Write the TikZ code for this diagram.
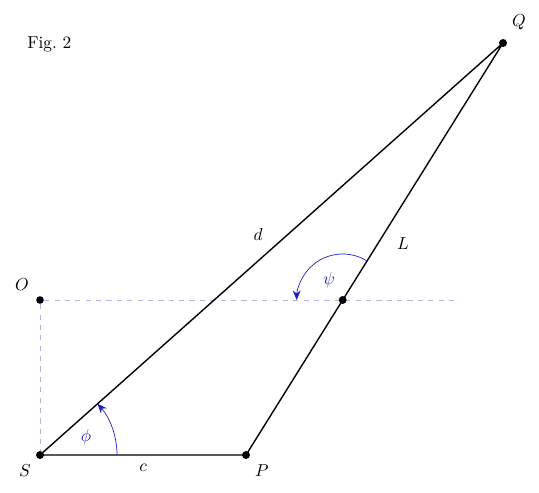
\documentclass[tikz,border=0pt]{standalone}
\usetikzlibrary{arrows.meta,calc}
\definecolor{guidecol}{RGB}{180,180,228}
\definecolor{arccol}{RGB}{30,30,190}
\begin{document}
\begin{tikzpicture}[x=0.578pt,y=-0.578pt,
  pt/.style={circle,fill=black,inner sep=0pt,minimum size=4.4pt},
  side/.style={black,thick},
  guide/.style={guidecol,dashed,thin},
  angarc/.style={arccol,thin,-{Stealth[length=5.5pt,width=4.5pt]}},
  lbl/.style={inner sep=0pt}]
\useasboundingbox (0,0) rectangle (539,493);
\node[lbl,anchor=west] (fig) at (27,44) {Fig.~2};
\node[pt] (S) at (40,455) {};
\node[pt] (P) at (246,455) {};
\node[pt] (Q) at (503,43) {};
\node[pt] (O) at (40,300) {};
\node[pt] (X) at (342.7,300) {};
\coordinate (E) at (455,300);
\draw[guide] (O) -- (E);
\draw[guide] (O) -- (S);
\draw[side] (S.center) -- (P.center) -- (Q.center) -- cycle;
\node[pt] at (S) {};
\node[pt] at (P) {};
\node[pt] at (Q) {};
\node[pt] at (X) {};
\draw[angarc] ($(S.center)+(77,0)$) arc[start angle=0,end angle=-41.7,radius=77];
\draw[angarc] ($(X.center)+(-58:46)$) arc[start angle=-58,end angle=-180,radius=46];
\node[lbl] (lQ) at (519,22) {$Q$};
\node[lbl] (lO) at (22,285) {$O$};
\node[lbl] (lS) at (25,471) {$S$};
\node[lbl] (lP) at (262,471) {$P$};
\node[lbl] (lc) at (143,468) {$c$};
\node[lbl] (ld) at (258,234) {$d$};
\node[lbl] (lL) at (403,244) {$L$};
\node[lbl,arccol] (lpsi) at (329,280) {$\psi$};
\node[lbl,arccol] (lphi) at (86,437) {$\phi$};
\end{tikzpicture}
\end{document}
